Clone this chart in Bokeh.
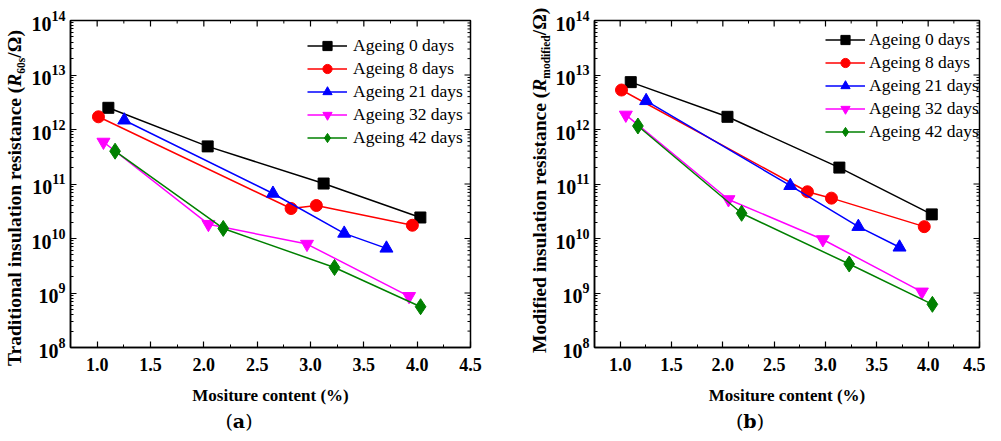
import numpy as np
from bokeh.plotting import figure
from bokeh.layouts import row, column
from bokeh.models import (Range1d, FixedTicker, Legend, LegendItem, NumeralTickFormatter, Div)
from bokeh.embed import file_html
from bokeh.resources import INLINE

# ---------------- data ----------------
series_labels = ["Ageing 0 days", "Ageing 8 days", "Ageing 21 days", "Ageing 32 days", "Ageing 42 days"]
series_colors = ["black", "red", "blue", "magenta", "green"]
series_markers = ["square", "circle", "triangle", "inverted_triangle", "diamond"]
marker_sizes = [11, 12, 13, 13, 16]

x_ticks = [1.0, 1.5, 2.0, 2.5, 3.0, 3.5, 4.0, 4.5]
x_minor = [0.75, 1.25, 1.75, 2.25, 2.75, 3.25, 3.75, 4.25]
y_decades = [8, 9, 10, 11, 12, 13, 14]

# panel (a): traditional insulation resistance R60s (ohm)
a_x_0 = [1.105, 2.036, 3.123, 4.03]
a_y_0 = [2.5e12, 4.9e11, 1.02e11, 2.43e10]
a_x_8 = [1.012, 2.818, 3.055, 3.955]
a_y_8 = [1.71e12, 3.55e10, 4.03e10, 1.75e10]
a_x_21 = [1.254, 2.648, 3.316, 3.712]
a_y_21 = [1.48e12, 6.7e10, 1.24e10, 6.6e9]
a_x_32 = [1.059, 2.043, 2.967, 3.924]
a_y_32 = [5.9e11, 1.83e10, 7.9e9, 8.7e8]
a_x_42 = [1.168, 2.182, 3.225, 4.032]
a_y_42 = [4.0e11, 1.53e10, 2.94e9, 5.6e8]

# panel (b): modified insulation resistance (ohm)
b_x_0 = [1.103, 2.045, 3.135, 4.035]
b_y_0 = [7.4e12, 1.71e12, 2.0e11, 2.77e10]
b_x_8 = [1.013, 2.824, 3.058, 3.962]
b_y_8 = [5.3e12, 7.2e10, 5.5e10, 1.65e10]
b_x_21 = [1.253, 2.657, 3.32, 3.721]
b_y_21 = [3.36e12, 9.3e10, 1.65e10, 6.9e9]
b_x_32 = [1.055, 2.055, 2.974, 3.939]
b_y_32 = [1.85e12, 5.2e10, 9.6e9, 1.05e9]
b_x_42 = [1.173, 2.183, 3.231, 4.041]
b_y_42 = [1.16e12, 2.9e10, 3.4e9, 6.2e8]

a_series = [(a_x_0, a_y_0), (a_x_8, a_y_8), (a_x_21, a_y_21), (a_x_32, a_y_32), (a_x_42, a_y_42)]
b_series = [(b_x_0, b_y_0), (b_x_8, b_y_8), (b_x_21, b_y_21), (b_x_32, b_y_32), (b_x_42, b_y_42)]

a_ylabel = 'Traditional insulation resistance (<i>R</i><span class="sb">60s</span>/&Omega;)'
b_ylabel = 'Modified insulation resistance (<i>R</i><span class="sb">modified</span>/&Omega;)'
panel_tags = ["a", "b"]

# ---------------- styling helpers ----------------
SERIF = "Liberation Serif"
H = 409          # height of the plotting row
TAG_H = 22       # height of the strip holding "(a)" / "(b)"


def ylabel_div(width, html, left, top):
    """Rotated, rich-text y-axis title (italic R with subscript)."""
    inner = (f'<div style="position:relative;width:{width}px;height:{H}px;overflow:hidden;">'
             f'<div style="position:absolute;left:{left}px;top:{top}px;transform-origin:0 0;'
             f'transform:rotate(-90deg);white-space:nowrap;font-family:\'Liberation Serif\';'
             f'font-weight:bold;font-size:19.5px;line-height:19.5px;color:black;">'
             f'<style>.sb{{font-size:11.5px;vertical-align:-4px;}}</style>{html}</div></div>')
    return Div(text=inner, width=width, height=H, margin=0)


def style_axis(ax):
    ax.axis_line_width = 1.5
    ax.axis_line_color = "black"
    ax.major_tick_in = 6
    ax.major_tick_out = 0
    ax.minor_tick_in = 3
    ax.minor_tick_out = 0
    ax.major_tick_line_width = 1.2
    ax.minor_tick_line_width = 1.0
    ax.major_tick_line_color = "black"
    ax.minor_tick_line_color = "black"
    ax.major_label_text_font = SERIF
    ax.major_label_text_font_style = "bold"
    ax.major_label_text_color = "black"


def make_panel(series, width, border_left, border_right, legend_xy, standoff):
    p = figure(width=width, height=H, x_range=Range1d(0.75, 4.5), y_range=Range1d(1e8, 1e14),
               y_axis_type="log", output_backend="svg", toolbar_location=None,
               min_border_left=border_left, min_border_right=border_right,
               min_border_top=20, min_border_bottom=H - 20 - 327)
    p.grid.visible = False
    p.outline_line_color = "black"
    p.outline_line_width = 1.5
    p.background_fill_color = "white"
    p.border_fill_color = "white"

    xax = p.xaxis[0]
    xax.ticker = FixedTicker(ticks=x_ticks, minor_ticks=x_minor)
    xax.formatter = NumeralTickFormatter(format="0.0")
    style_axis(xax)
    xax.major_label_text_font_size = "18px"
    xax.major_label_standoff = 10
    xax.axis_label = "Mositure content (%)"
    xax.axis_label_text_font = SERIF
    xax.axis_label_text_font_style = "bold"
    xax.axis_label_text_font_size = "17px"
    xax.axis_label_text_color = "black"
    xax.axis_label_standoff = 12

    yax = p.yaxis[0]
    style_axis(yax)
    yax.major_label_text_font_size = "20px"
    yax.major_label_standoff = 5

    # mirrored inward ticks on the top and right frame edges
    y_major = [10.0 ** k for k in y_decades]
    y_minor = [m * 10.0 ** k for k in y_decades[:-1] for m in range(2, 10)]
    p.ray(x=x_ticks, y=[1e14] * len(x_ticks), length=6, length_units="screen",
          angle=-np.pi / 2, line_color="black", line_width=1.2)
    p.ray(x=x_minor, y=[1e14] * len(x_minor), length=3, length_units="screen",
          angle=-np.pi / 2, line_color="black", line_width=1.0)
    p.ray(x=[4.5] * len(y_major), y=y_major, length=6, length_units="screen",
          angle=np.pi, line_color="black", line_width=1.2)
    p.ray(x=[4.5] * len(y_minor), y=y_minor, length=3, length_units="screen",
          angle=np.pi, line_color="black", line_width=1.0)

    items = []
    for (xs, ys), lab, col, mk, ms in zip(series, series_labels, series_colors, series_markers, marker_sizes):
        ln = p.line(xs, ys, line_color=col, line_width=1.5)
        sc = p.scatter(xs, ys, marker=mk, size=ms, fill_color=col, line_color=col)
        items.append(LegendItem(label=lab, renderers=[ln, sc]))

    leg = Legend(items=items, location=legend_xy, orientation="vertical")
    leg.background_fill_alpha = 0
    leg.border_line_alpha = 0
    leg.padding = 0
    leg.margin = 0
    leg.glyph_width = 40
    leg.glyph_height = 23
    leg.label_height = 23
    leg.spacing = 0
    leg.label_standoff = standoff
    leg.label_text_font = SERIF
    leg.label_text_font_size = "17.5px"
    leg.label_text_color = "black"
    p.add_layout(leg, "center")
    return p


strip_a = ylabel_div(28, a_ylabel, 5, 366)
pa = make_panel(a_series, 466, 39, 24, (237, 198), 6)
strip_b = ylabel_div(58, b_ylabel, 36, 353)
pb = make_panel(b_series, 433, 37, 6, (231, 204), 4)

tag_html = '<div style="position:relative;width:985px;height:%dpx;overflow:hidden;">' % TAG_H
for t, cx in zip(panel_tags, [239, 750]):
    tag_html += ('<div style="position:absolute;left:%dpx;top:2px;width:100px;text-align:center;'
                 'font-family:\'DejaVu Serif\';font-size:19px;line-height:20px;color:black;">'
                 '(<b>%s</b>)</div>' % (cx - 50, t))
tag_html += '</div>'
tags = Div(text=tag_html, width=985, height=TAG_H, margin=0)

layout = column(row(strip_a, pa, strip_b, pb), tags)
open("out.html", "w").write(file_html(layout, INLINE))
